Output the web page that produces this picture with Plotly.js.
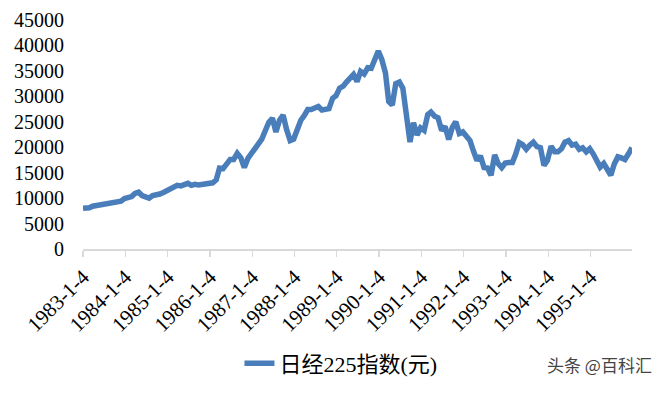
<!DOCTYPE html>
<html>
<head>
<meta charset="utf-8">
<script src="https://cdn.plot.ly/plotly-3.0.1.min.js"></script>
<style>html,body{margin:0;padding:0;background:#fff;}#chart{width:659px;height:397px;}</style>
</head>
<body>
<div id="chart"></div>
<script>
// Nikkei 225, month-end readings from the picture
const startDate = '1983-01-04';
const startValue = 8000;
const years = [1983,1984,1985,1986,1987,1988,1989,1990,1991,1992,1993,1994,1995];
const monthKeys = ['01','02','03','04','05','06','07','08','09','10','11','12'];
const v1983 = [8000, 8100, 8400, 8500, 8600, 8800, 9000, 9100, 9200, 9250, 9400, 9900];
const v1984 = [10200, 10300, 10900, 11150, 10500, 10300, 10000, 10500, 10600, 10800, 11100, 11500];
const v1985 = [11800, 12200, 12500, 12400, 12600, 12900, 12500, 12700, 12600, 12700, 12800, 13100];
const v1986 = [13000, 13600, 15900, 15800, 16600, 17600, 17600, 18800, 17900, 16000, 17800, 18700];
const v1987 = [20000, 20800, 21600, 23300, 24900, 25700, 23000, 25300, 26300, 23500, 21300, 21600];
const v1988 = [23600, 25300, 26200, 27400, 27400, 27700, 28000, 27300, 27400, 27600, 29600, 30100];
const v1989 = [31600, 32000, 32800, 33700, 34300, 32900, 34900, 34400, 35600, 35500, 37300, 38900];
const v1990 = [37200, 34600, 29000, 28300, 32500, 32800, 31600, 25900, 21000, 24800, 22400, 23800];
const v1991 = [23300, 26400, 26900, 26100, 25800, 23300, 24100, 21500, 23900, 25000, 22700, 23000];
const v1992 = [22000, 21300, 19300, 17400, 18300, 16000, 15900, 14500, 18500, 16800, 16000, 16900];
const v1993 = [17000, 17000, 18600, 20900, 20500, 19600, 20400, 21000, 20100, 19900, 16400, 17400];
const v1994 = [20200, 19100, 19100, 19700, 21000, 21300, 20400, 20600, 19600, 19900, 19100, 19700];
const v1995 = [18650, 17050, 16100, 16800, 15400, 14500, 16700, 18100, 17900, 17600, 18700, 19900];
const yearValues = [v1983,v1984,v1985,v1986,v1987,v1988,v1989,v1990,v1991,v1992,v1993,v1994,v1995];
const tickVals = ['1983-01-04','1984-01-04','1985-01-04','1986-01-04','1987-01-04','1988-01-04','1989-01-04','1990-01-04','1991-01-04','1992-01-04','1993-01-04','1994-01-04','1995-01-04'];
const tickText = ['1983-1-4','1984-1-4','1985-1-4','1986-1-4','1987-1-4','1988-1-4','1989-1-4','1990-1-4','1991-1-4','1992-1-4','1993-1-4','1994-1-4','1995-1-4'];
const seriesName = '日经225指数(元)';

const xs = [startDate];
const ys = [startValue];
years.forEach((yr, i) => {
  monthKeys.forEach((m, j) => {
    xs.push(yr + '-' + m + '-28');
    ys.push(yearValues[i][j]);
  });
});

const serif = 'Liberation Serif, DejaVu Serif, serif';

const trace = {
  x: xs, y: ys, type: 'scatter', mode: 'lines', name: seriesName,
  line: {color: '#4A7EBB', width: 5.5, shape: 'linear'}
};

const layout = {
  width: 659, height: 397,
  margin: {l: 83, r: 27, t: 20, b: 136},
  paper_bgcolor: '#fff', plot_bgcolor: '#fff',
  font: {family: serif, color: '#000', size: 19},
  xaxis: {
    type: 'date', range: ['1983-01-04', '1995-12-28'],
    tickmode: 'array', tickvals: tickVals, ticktext: tickText,
    tickangle: -45, ticks: 'outside', ticklen: 6, tickcolor: '#d9d9d9', tickwidth: 1.3,
    showline: true, linecolor: '#d9d9d9', linewidth: 1.5, showgrid: false, zeroline: false,
    automargin: false,
    tickfont: {family: serif, size: 21, color: '#000'}
  },
  yaxis: {
    range: [0, 45000], dtick: 5000, tick0: 0, tickformat: 'd',
    showgrid: false, zeroline: false, showline: false,
    ticks: '', ticklabelstandoff: 18, automargin: false,
    tickfont: {family: serif, size: 20, color: '#000'}
  },
  showlegend: true,
  legend: {
    orientation: 'h', x: 0.285, xanchor: 'left', y: -0.5, yanchor: 'middle',
    font: {family: 'Liberation Serif, Noto Sans CJK SC, serif', size: 22, color: '#000'},
    bgcolor: 'rgba(0,0,0,0)'
  },
  annotations: [{
    text: '头条 @百科汇', xref: 'paper', yref: 'paper', x: 1.04, y: -0.505,
    xanchor: 'right', yanchor: 'middle', showarrow: false,
    font: {family: 'Noto Sans CJK SC, sans-serif', size: 17, color: '#444'}
  }]
};

Plotly.newPlot('chart', [trace], layout, {displayModeBar: false, staticPlot: true});
</script>
</body>
</html>
